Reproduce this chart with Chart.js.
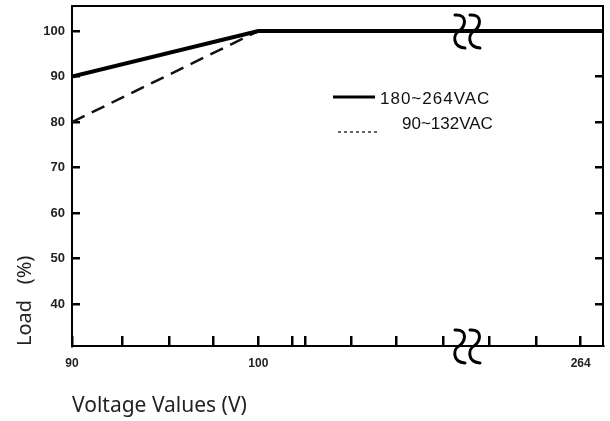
<!DOCTYPE html>
<html>
<head>
<meta charset="utf-8">
<script src="https://cdn.jsdelivr.net/npm/chart.js@4/dist/chart.umd.min.js"></script>
<style>
html,body{margin:0;padding:0;background:#fff;}
#wrap{width:610px;height:421px;position:relative;}
</style>
</head>
<body>
<div id="wrap"><canvas id="c" width="610" height="421"></canvas></div>
<script>
// Broken voltage axis: positions on the axis (volts up to 100, then compressed up to 264)
const axisPositions = [90, 100, 118.5];
const load180to264 = [90, 100, 100];
const load90to132Positions = [90, 100];
const load90to132 = [80, 100];

const xTickPositions = [90, 92.7, 95.2, 97.6, 100, 101.8, 102.5, 105, 107.4, 109.9, 112.4, 114.9, 117.3];
const xTickLabels    = ['90', '', '', '', '100', '', '', '', '', '', '', '', '264'];
const yTickValues = [40, 50, 60, 70, 80, 90, 100];
const breakPosition = 111.2;

const legendItems = ['180~264VAC', '90~132VAC'];

const decor = {
  id: 'decor',
  beforeDatasetsDraw(chart) {
    const {ctx, chartArea: a} = chart;
    ctx.save();
    ctx.strokeStyle = '#000';
    ctx.lineWidth = 2;
    ctx.strokeRect(a.left, a.top, a.right - a.left, a.bottom - a.top);
    ctx.restore();
  },
  afterDatasetsDraw(chart) {
    const {ctx, scales: {x, y}} = chart;
    ctx.save();
    ctx.strokeStyle = '#000';
    ctx.lineWidth = 3;
    ctx.lineCap = 'round';
    const bx = x.getPixelForValue(breakPosition);
    const drawS = (cx, cy) => {
      ctx.beginPath();
      ctx.moveTo(cx - 5, cy - 16);
      ctx.bezierCurveTo(cx + 9, cy - 17, cx + 5, cy - 3, cx - 1, cy);
      ctx.bezierCurveTo(cx - 7, cy + 3, cx - 8, cy + 16, cx + 5, cy + 17);
      ctx.stroke();
    };
    [y.getPixelForValue(100), y.bottom].forEach(cy => {
      drawS(bx - 7, cy);
      drawS(bx + 8, cy);
    });
    // legend
    ctx.lineCap = 'butt';
    ctx.lineWidth = 3;
    ctx.beginPath(); ctx.moveTo(333, 97); ctx.lineTo(375, 97); ctx.stroke();
    ctx.strokeStyle = '#666';
    ctx.lineWidth = 2;
    ctx.setLineDash([3, 3]);
    ctx.beginPath(); ctx.moveTo(338, 132); ctx.lineTo(378, 132); ctx.stroke();
    ctx.setLineDash([]);
    ctx.fillStyle = '#111';
    ctx.font = '17px "Liberation Sans", Arial, sans-serif';
    ctx.textBaseline = 'middle';
    ctx.textAlign = 'left';
    ctx.letterSpacing = '1px';
    ctx.fillText(legendItems[0], 380, 99);
    ctx.letterSpacing = '0px';
    ctx.fillText(legendItems[1], 402, 124);
    ctx.restore();
  }
};

const setYTicks = s => { s.ticks = yTickValues.map(v => ({value: v})); };

new Chart(document.getElementById('c'), {
  type: 'line',
  data: {
    datasets: [
      {
        label: legendItems[0],
        data: axisPositions.map((p, i) => ({x: p, y: load180to264[i]})),
        borderColor: '#000',
        borderWidth: 4,
        pointRadius: 0,
        tension: 0,
        order: 1
      },
      {
        label: legendItems[1],
        data: load90to132Positions.map((p, i) => ({x: p, y: load90to132[i]})),
        borderColor: '#111',
        borderWidth: 2.5,
        borderDash: [14, 8],
        pointRadius: 0,
        tension: 0,
        order: 2
      }
    ]
  },
  options: {
    responsive: false,
    animation: false,
    devicePixelRatio: 1,
    layout: {padding: {top: 6, right: 7, left: 0, bottom: 0}},
    plugins: {legend: {display: false}, tooltip: {enabled: false}},
    scales: {
      x: {
        type: 'linear',
        min: 90,
        max: 118.5,
        afterBuildTicks: s => { s.ticks = xTickPositions.map(v => ({value: v})); },
        afterFit: s => { s.height = 75; s.paddingLeft = 0; s.paddingRight = 0; },
        grid: {drawOnChartArea: false, drawTicks: true, tickLength: -10, color: '#000', lineWidth: 2.5},
        border: {display: true, color: '#000', width: 2},
        ticks: {
          autoSkip: false,
          maxRotation: 0,
          padding: 20,
          color: '#222',
          font: {family: '"Liberation Sans", Arial, sans-serif', size: 12, weight: 'bold'},
          callback: (v, i) => xTickLabels[i]
        },
        title: {
          display: true,
          text: 'Voltage Values (V)',
          align: 'start',
          color: '#222',
          font: {family: '"Noto Sans", "Open Sans", sans-serif', size: 21},
          padding: {top: 0, bottom: 2}
        }
      },
      y: {
        type: 'linear',
        position: 'left',
        min: 30.8,
        max: 105.5,
        afterBuildTicks: setYTicks,
        afterFit: s => { s.width = 72; s.paddingTop = 0; s.paddingBottom = 0; },
        grid: {drawOnChartArea: false, drawTicks: true, tickLength: -8, color: '#000', lineWidth: 2.5},
        border: {display: true, color: '#000', width: 2},
        ticks: {
          padding: 15,
          color: '#222',
          font: {family: '"Liberation Sans", Arial, sans-serif', size: 13, weight: 'bold'}
        },
        title: {
          display: true,
          text: 'Load   (%)',
          align: 'start',
          color: '#222',
          font: {family: '"Noto Sans", "Open Sans", sans-serif', size: 20},
          padding: {top: 13, bottom: 0}
        }
      },
      y2: {
        type: 'linear',
        position: 'right',
        min: 30.8,
        max: 105.5,
        afterBuildTicks: setYTicks,
        afterFit: s => { s.width = 0; s.paddingTop = 0; s.paddingBottom = 0; },
        grid: {drawOnChartArea: false, drawTicks: true, tickLength: -8, color: '#000', lineWidth: 2.5},
        border: {display: false},
        ticks: {display: false}
      }
    }
  },
  plugins: [decor]
});
</script>
</body>
</html>
